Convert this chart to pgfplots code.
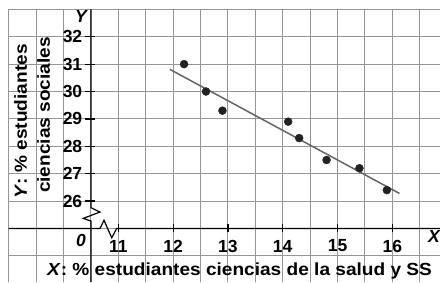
\documentclass[border=0pt]{standalone}
\usepackage{pgfplots}
\pgfplotsset{compat=1.18}
\usepackage{fontspec}
\setmainfont{Liberation Sans}
\newfontfamily\wfont{Liberation Sans}[FakeStretch=1.09]
\definecolor{gridc}{RGB}{150,150,150}
\definecolor{linec}{RGB}{100,100,100}
\definecolor{dotc}{RGB}{34,34,34}
\tikzset{lbl/.style={font=\bfseries\fontsize{17.5}{20}\selectfont, inner sep=0pt},
         wlbl/.style={font=\wfont\bfseries\fontsize{17.5}{20}\selectfont, inner sep=0pt}}
\begin{document}
\begin{tikzpicture}
\useasboundingbox (0,0) rectangle (440pt,282pt);
\begin{axis}[
  at={(0,0)}, anchor=south west,
  scale only axis, width=440pt, height=282pt,
  xmin=8.841, xmax=16.870, ymin=23.047, ymax=33.34,
  axis lines=none, clip=false,
]
% grid
\pgfplotsinvokeforeach{9,9.5,10,10.5,11,11.5,12,12.5,13,13.5,14,14.5,15,15.5,16,16.5}{
  \draw[gridc, line width=1.1pt] (axis cs:#1,23.047) -- (axis cs:#1,33);
}
\pgfplotsinvokeforeach{24,25,26,27,28,29,30,31,32,33}{
  \draw[gridc, line width=1.1pt] (axis cs:9,#1) -- (axis cs:16.87,#1);
}
% y axis with break
\draw[black, line width=1.2pt] (axis cs:10.5,33) -- (axis cs:10.5,25.76) -- (axis cs:10.666,25.60)
  -- (axis cs:10.361,25.37) -- (axis cs:10.5,25.27) -- (axis cs:10.5,23.047);
% x axis with break
\draw[black, line width=1.2pt] (axis cs:9,25) -- (axis cs:10.666,25) -- (axis cs:10.739,25.30)
  -- (axis cs:10.88,24.66) -- (axis cs:10.97,25) -- (axis cs:16.87,25);
% y ticks
\pgfplotsinvokeforeach{26,27,28,29,30,31,32}{
  \draw[black, line width=1.2pt] ([xshift=-6pt]axis cs:10.5,#1) -- ([xshift=4pt]axis cs:10.5,#1);
  \node[lbl, anchor=east] at ([xshift=-8.5pt]axis cs:10.5,#1) {#1};
}
% x ticks
\pgfplotsinvokeforeach{11,12,13,14,15,16}{
  \draw[black, line width=1.2pt] ([yshift=-4pt]axis cs:#1,25) -- ([yshift=4pt]axis cs:#1,25);
  \node[lbl, anchor=center] at ([yshift=-17.5pt]axis cs:#1,25) {#1};
}
\node[lbl] at (axis cs:10.319,24.58) {\itshape 0};
\node[lbl] at (axis cs:10.319,32.755) {\itshape Y};
\node[lbl] at (axis cs:16.761,24.726) {\itshape X};
\node[wlbl, rotate=90] at (axis cs:9.215,28.912) {\textit{Y}: \% estudiantes};
\node[wlbl, rotate=90] at (axis cs:9.635,29.142) {ciencias sociales};
\node[wlbl] at (axis cs:13.212,23.449) {\textit{X}: \% estudiantes ciencias de la salud y SS};
% regression line
\addplot[linec, line width=1.5pt] coordinates {(11.94,30.81) (16.13,26.28)};
% data
\addplot[only marks, mark=*, mark size=4pt, mark options={fill=dotc, draw=dotc}] coordinates {
 (12.2,31.0) (12.6,30.0) (12.9,29.3) (14.1,28.9) (14.3,28.3) (14.8,27.5) (15.4,27.2) (15.9,26.4)
};
\end{axis}
\end{tikzpicture}
\end{document}
